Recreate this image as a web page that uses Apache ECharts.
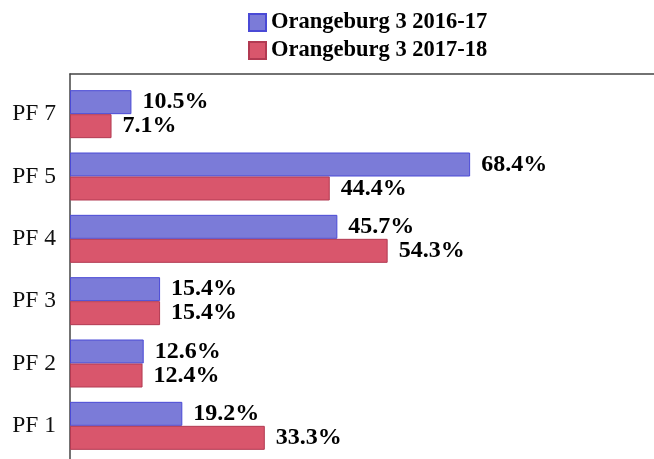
<!DOCTYPE html>
<html>
<head>
<meta charset="utf-8">
<script src="https://cdn.jsdelivr.net/npm/echarts@6/dist/echarts.min.js"></script>
<style>
  html, body { margin: 0; padding: 0; background: #fff; }
  #chart { width: 654px; height: 459px; }
</style>
</head>
<body>
<div id="chart"></div>
<script>
// categories top to bottom
const categories = ["PF 7", "PF 5", "PF 4", "PF 3", "PF 2", "PF 1"];
const seriesNames = ["Orangeburg 3 2016-17", "Orangeburg 3 2017-18"];
const values1617 = [10.5, 68.4, 45.7, 15.4, 12.6, 19.2];
const values1718 = [7.1, 44.4, 54.3, 15.4, 12.4, 33.3];

const font = "'Liberation Serif', 'Times New Roman', serif";
const colors = [
    { fill: "#7b7bd8", border: "#4a4ad6" },
    { fill: "#d9566c", border: "#b23a52" },
];

const chart = echarts.init(document.getElementById("chart"));

function makeSeries(name, data, idx) {
    return {
        name: name,
        type: "bar",
        xAxisIndex: 1,
        yAxisIndex: 1,
        data: data,
        barWidth: 24,
        barGap: "0%",
        itemStyle: {
            color: colors[idx].fill,
            borderColor: colors[idx].border,
            borderWidth: 1,
        },
        label: {
            show: true,
            position: "right",
            distance: 11,
            color: "#000",
            fontFamily: font,
            fontWeight: "bold",
            fontSize: 24,
            formatter: (p) => p.value.toFixed(1) + "%",
        },
    };
}

const option = {
    animation: false,
    legend: {
        orient: "vertical",
        left: 243,
        top: 6,
        itemWidth: 17,
        itemHeight: 17,
        itemGap: 5,
        icon: "rect",
        data: seriesNames,
        textStyle: {
            color: "#000",
            fontFamily: font,
            fontWeight: "bold",
            fontSize: 22.5,
            lineHeight: 22,
        },
    },
    grid: [
        // frame (left and top lines)
        { left: 70, top: 74, right: 0, bottom: 0 },
        // plot
        { left: 70, top: 83, width: 468, height: 374 },
    ],
    xAxis: [
        {
            gridIndex: 0,
            type: "value",
            position: "top",
            axisLine: { show: true, onZero: false, lineStyle: { color: "#444", width: 1.5 } },
            axisTick: { show: false },
            axisLabel: { show: false },
            splitLine: { show: false },
        },
        {
            gridIndex: 1,
            type: "value",
            min: 0,
            max: 80,
            show: false,
            splitLine: { show: false },
        },
    ],
    yAxis: [
        {
            gridIndex: 0,
            type: "value",
            axisLine: { show: true, onZero: false, lineStyle: { color: "#444", width: 1.5 } },
            axisTick: { show: false },
            axisLabel: { show: false },
            splitLine: { show: false },
        },
        {
            gridIndex: 1,
            type: "category",
            inverse: true,
            data: categories,
            axisLine: { show: false },
            axisTick: { show: false },
            axisLabel: {
                color: "#111",
                fontFamily: font,
                fontSize: 23.5,
                margin: 14,
            },
        },
    ],
    series: [
        makeSeries(seriesNames[0], values1617, 0),
        makeSeries(seriesNames[1], values1718, 1),
    ],
};

chart.setOption(option);
</script>
</body>
</html>
